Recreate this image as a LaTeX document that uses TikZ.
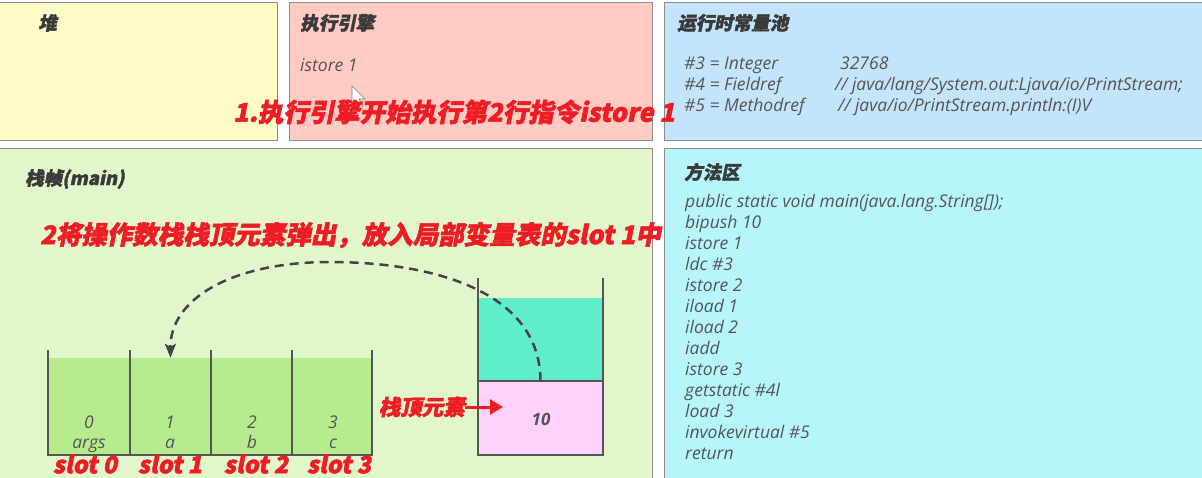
\documentclass[tikz,border=0pt]{standalone}
\usepackage{fontspec}
\setmainfont{Open Sans}
\newfontfamily\cjk[FakeSlant=0.2,BoldFeatures={FakeSlant=0.2,FakeBold=2}]{Noto Sans CJK SC}
\usetikzlibrary{arrows.meta}
\definecolor{heapc}{HTML}{FFFBC6}
\definecolor{enginec}{HTML}{FFCBC3}
\definecolor{poolc}{HTML}{C3E4FB}
\definecolor{framec}{HTML}{E1F7CB}
\definecolor{methodc}{HTML}{B6F6FB}
\definecolor{slotc}{HTML}{B6EB8E}
\definecolor{stackc}{HTML}{5FEDCB}
\definecolor{topc}{HTML}{FFD1FB}
\definecolor{redc}{HTML}{EE1C24}
\definecolor{bordc}{HTML}{8C8C8C}
\definecolor{titlec}{HTML}{3A3A3A}
\definecolor{codec}{HTML}{555555}
\definecolor{linec}{HTML}{555555}
\tikzset{
  panel/.style={draw=bordc, line width=1pt, inner sep=0pt},
  title/.style={anchor=west, inner sep=0pt, text=titlec, font=\cjk\bfseries\fontsize{18.5}{22}\selectfont},
  code/.style={anchor=base west, inner sep=0pt, text=codec, font=\itshape\fontsize{17.5}{21}\selectfont},
  note/.style={anchor=west, inner sep=0pt, text=redc, font=\cjk\bfseries\fontsize{25.5}{30}\selectfont},
  slotlab/.style={inner sep=0pt, text=redc, font=\cjk\bfseries\fontsize{23.5}{27}\selectfont},
  cell/.style={inner sep=0pt, draw=none},
  wall/.style={draw=linec, line width=2pt},
}
\begin{document}
\begin{tikzpicture}[x=1pt,y=-1pt]
\useasboundingbox (0,0) rectangle (1202,477);
\fill[white] (0,0) rectangle (1202,477);
% panels
\draw[panel, fill=heapc] (-3,2) rectangle (277,140);
\draw[panel, fill=enginec] (289,2) rectangle (652,140);
\draw[panel, fill=poolc] (664,2) rectangle (1206,140);
\draw[panel, fill=framec] (-3,148) rectangle (652,481);
\draw[panel, fill=methodc] (664,148) rectangle (1206,481);
% titles
\node[title] (theap) at (38,23) {堆};
\node[title] (tengine) at (300,23) {执行引擎};
\node[code] (cur) at (300,71) {istore 1};
\node[title] (tpool) at (677,23) {运行时常量池};
\node[title] (tframe) at (25,179) {栈帧(main)};
\node[title] (tmethod) at (684,172) {方法区};
% mouse cursor
\draw[fill=white, draw=gray, line width=0.6pt] (352,86) -- (352,104) -- (356,100) -- (360,108) -- (363,106) -- (359,99) -- (365,99) -- cycle;
% constant pool
\node[code] (p3) at (684,69) {\#3 = Integer};
\node[code] (p3v) at (840,69) {32768};
\node[code] (p4) at (684,90) {\#4 = Fieldref};
\node[code] (p4v) at (835,90) {// java/lang/System.out:Ljava/io/PrintStream;};
\node[code] (p5) at (684,111) {\#5 = Methodref};
\node[code] (p5v) at (838,111) {// java/io/PrintStream.println:(I)V};
% method area
\foreach \t [count=\i] in {public static void main(java.lang.String[]);, bipush 10, istore 1, ldc \#3, istore 2, iload 1, iload 2, iadd, istore 3, getstatic \#4l, load 3, invokevirtual \#5, return}
  \node[code] (m\i) at (685,{186+21*\i}) {\t};
% notes
\node[note] (n1) at (233,112) {1.执行引擎开始执行第2行指令istore 1};
\node[note] (n2) at (40,235) {2将操作数栈栈顶元素弹出，放入局部变量表的slot 1中};
% local variable table
\fill[slotc] (48,358) rectangle (372,455);
\node[cell, minimum width=82pt, minimum height=97pt] (s0) at (89,406.5) {};
\node[cell, minimum width=81pt, minimum height=97pt] (s1) at (170.5,406.5) {};
\node[cell, minimum width=81pt, minimum height=97pt] (s2) at (251.5,406.5) {};
\node[cell, minimum width=80pt, minimum height=97pt] (s3) at (332,406.5) {};
\draw[wall] (48,350) -- (48,455) -- (372,455) -- (372,350);
\draw[wall] (130,350) -- (130,455);
\draw[wall] (211,350) -- (211,455);
\draw[wall] (292,350) -- (292,455);
\foreach \n/\x/\a/\b in {0/89/0/args, 1/170/1/a, 2/252/2/b, 3/333/3/c} {
  \node[code, anchor=base] (d\n) at (\x,428.5) {\a};
  \node[code, anchor=base] (v\n) at (\x,448) {\b};
}
\node[slotlab] (l0) at (85,464) {slot 0};
\node[slotlab] (l1) at (170,464) {slot 1};
\node[slotlab] (l2) at (256,464) {slot 2};
\node[slotlab] (l3) at (339,464) {slot 3};
% operand stack
\node[cell, fill=stackc, minimum width=125pt, minimum height=83pt] (st) at (540.5,339.5) {};
\node[cell, fill=topc, minimum width=125pt, minimum height=74pt] (top) at (540.5,418) {};
\node[code, anchor=base, font=\bfseries\itshape\fontsize{17}{20}\selectfont] (ten) at (541,425) {10};
\draw[wall] (478,278) -- (478,455) -- (603,455) -- (603,278);
\draw[wall] (478,381) -- (603,381);
% labels and arrows
\node[anchor=east, inner sep=0pt, text=redc, font=\cjk\bfseries\fontsize{21.5}{25}\selectfont] (lab) at (465,407) {栈顶元素};
\coordinate (tip) at (503,407);
\draw[redc, line width=3pt, -{Triangle[length=13pt,width=15pt]}] (lab.east) -- (tip);
\draw[linec!80!black, line width=2.5pt, dash pattern=on 9pt off 6pt, -{Stealth[length=14pt,width=11pt,inset=3pt]}]
  (top.north) .. controls (540,290) and (430,262) .. (330,262)
  .. controls (230,262) and (170,300) .. (s1.north);
\end{tikzpicture}
\end{document}
